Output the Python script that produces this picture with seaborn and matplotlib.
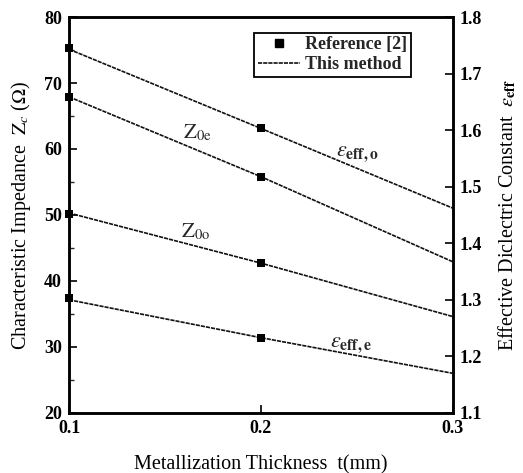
import matplotlib
matplotlib.use("Agg")
import matplotlib.pyplot as plt
from matplotlib.lines import Line2D
from matplotlib.ticker import MultipleLocator, FormatStrFormatter
import seaborn as sns

# ---------------- data ----------------
t_line = [0.1, 0.2, 0.3]            # metallization thickness (mm), "This method"
z0e_line = [67.9, 55.8, 42.9]
z0o_line = [50.3, 42.7, 34.6]
eps_o_line = [1.743, 1.603, 1.462]
eps_e_line = [1.300, 1.233, 1.170]

t_ref = [0.1, 0.2]                  # Reference [2]
z0e_ref = [67.9, 55.8]
z0o_ref = [50.1, 42.7]
eps_o_ref = [1.745, 1.603]
eps_e_ref = [1.303, 1.233]

x_ticks = [0.1, 0.2, 0.3]
left_ticks = [20, 30, 40, 50, 60, 70, 80]
right_ticks = [1.1, 1.2, 1.3, 1.4, 1.5, 1.6, 1.7, 1.8]

# ---------------- style ----------------
sns.set_theme(style="ticks")
plt.rcParams["font.family"] = ["Liberation Serif", "DejaVu Serif"]
plt.rcParams["mathtext.fontset"] = "stix"

LINE_KW = dict(color="#111111", linewidth=1.2, linestyle=(0, (2.5, 0.6)))
MARK_KW = dict(marker="s", color="black", s=36, edgecolor="black", linewidth=0, zorder=5)

fig = plt.figure(figsize=(5.23, 4.73), dpi=100)
ax = fig.add_axes([0.132, 0.127, 0.734, 0.837])
ax2 = ax.twinx()

# lines (left axis)
for ys in (z0e_line, z0o_line):
    sns.lineplot(x=t_line, y=ys, ax=ax, **LINE_KW)
# lines (right axis)
for ys in (eps_o_line, eps_e_line):
    sns.lineplot(x=t_line, y=ys, ax=ax2, **LINE_KW)

# reference squares
for ys in (z0e_ref, z0o_ref):
    sns.scatterplot(x=t_ref, y=ys, ax=ax, clip_on=False, **MARK_KW)
for ys in (eps_o_ref, eps_e_ref):
    sns.scatterplot(x=t_ref, y=ys, ax=ax2, clip_on=False, **MARK_KW)

# axes limits / ticks
ax.set_xlim(0.1, 0.3)
ax.set_ylim(20, 80)
ax2.set_ylim(1.1, 1.8)
ax.set_xticks(x_ticks)
ax.set_yticks(left_ticks)
ax2.set_yticks(right_ticks)
ax.yaxis.set_minor_locator(MultipleLocator(5))
ax.xaxis.set_major_formatter(FormatStrFormatter("%.1f"))
ax2.yaxis.set_major_formatter(FormatStrFormatter("%.1f"))

for a in (ax, ax2):
    a.tick_params(direction="in", length=6, width=1.2, labelsize=13, pad=5, colors="black")
    a.tick_params(which="minor", direction="in", length=3.5, width=1.0)
    for s in a.spines.values():
        s.set_visible(True)
        s.set_linewidth(1.8)
        s.set_color("black")
    for lab in a.get_xticklabels() + a.get_yticklabels():
        lab.set_fontweight("bold")
ax2.tick_params(axis="y", right=True, left=False)
ax.tick_params(axis="y", right=False)

ax.set_xlabel("Metallization Thickness  t(mm)", fontsize=14.5, labelpad=13, color="black")
ax.set_ylabel(r"Characteristic Impedance  $\mathrm{Z}_{c}$ ($\Omega$)", fontsize=14.5,
              labelpad=8, color="black")
ax2.set_ylabel(r"Effective Diclectric Constant  $\varepsilon_{\mathbf{eff}}$", fontsize=14.5,
               labelpad=10, color="black")

# curve labels
ax.text(0.167, 62.4, r"$\mathrm{Z}_{\mathrm{0e}}$", fontsize=15, ha="center", va="center")
ax.text(0.166, 47.4, r"$\mathrm{Z}_{\mathrm{0o}}$", fontsize=15, ha="center", va="center")
ax2.text(0.250, 1.557, r"$\varepsilon_{\mathbf{eff,o}}$", fontsize=16, ha="center", va="center")
ax2.text(0.247, 1.219, r"$\varepsilon_{\mathbf{eff,e}}$", fontsize=16, ha="center", va="center")

# legend
handles = [
    Line2D([], [], marker="s", color="black", linestyle="none", markersize=6),
    Line2D([], [], **LINE_KW),
]
leg = ax2.legend(handles, ["Reference [2]", "This method"], loc="upper right",
                 bbox_to_anchor=(0.89, 0.96), frameon=True, fancybox=False,
                 edgecolor="black", framealpha=1, handlelength=2.3, handletextpad=0.3,
                 borderpad=0.2, labelspacing=0.15, borderaxespad=0,
                 prop={"family": "Liberation Serif", "weight": "bold", "size": 13})
leg.get_frame().set_linewidth(1.3)

fig.savefig("out.png", dpi=100)
